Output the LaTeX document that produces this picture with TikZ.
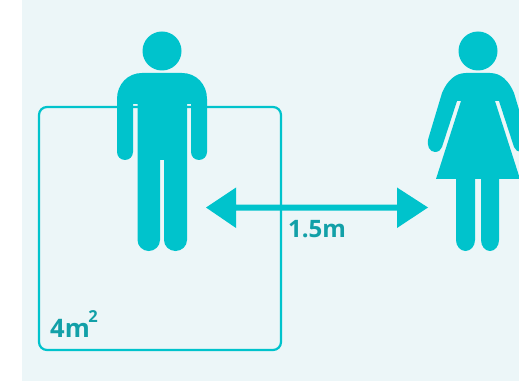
\documentclass[tikz,border=0pt]{standalone}
\usepackage{fontspec}
\setmainfont{Open Sans}
\definecolor{bgc}{HTML}{ECF6F8}
\definecolor{fig}{HTML}{00C3CC}
\definecolor{txt}{HTML}{12A0A8}
\tikzset{figshape/.style={fill=fig,draw=none},lab/.style={text=txt,font=\fontsize{24}{28}\selectfont\bfseries,inner sep=0pt,anchor=base west}}
\begin{document}
\begin{tikzpicture}[x=1pt,y=-1pt]
\useasboundingbox (0,0) rectangle (519,382);
\clip (0,0) rectangle (519,382);
\fill[bgc] (22,0) rectangle (519,381);
% floor area
\draw[fig,line width=2.2pt,rounded corners=8pt] (39,107) rectangle (281,350);
% man
\fill[figshape] (162,51) circle (19.5);
\fill[figshape] (142,73)
  .. controls (128,73) and (117,84) .. (117,99) -- (117,152)
  arc[start angle=180,end angle=360,x radius=8,y radius=-8]
  -- (133,104) -- (137.5,104) -- (137.5,240)
  arc[start angle=180,end angle=360,x radius=11.25,y radius=-11]
  -- (160,160) -- (164,160) -- (164,240)
  arc[start angle=180,end angle=360,x radius=11.5,y radius=-11]
  -- (187,104) -- (191,104) -- (191,152)
  arc[start angle=180,end angle=360,x radius=8,y radius=-8]
  -- (207,99) .. controls (207,84) and (196,73) .. (182,73) -- cycle;
% woman
\fill[figshape] (478,51) circle (19.5);
\fill[figshape] (466,73)
  .. controls (455,73) and (447,81) .. (442,93)
  -- (428.5,138)
  .. controls (426,146) and (430,152) .. (435,152)
  .. controls (438.5,152) and (441,150) .. (442,147)
  -- (457,101) -- (461,101) -- (436,179) -- (456,179) -- (456,240)
  arc[start angle=180,end angle=360,x radius=9.5,y radius=-11]
  -- (475,179) -- (481,179) -- (481,240)
  arc[start angle=180,end angle=360,x radius=9,y radius=-11]
  -- (499,179) -- (520,179) -- (495,101) -- (499,101)
  -- (514,147) .. controls (515,150) and (518,152) .. (521,152)
  .. controls (526,152) and (530,146) .. (527.5,138)
  -- (514,93) .. controls (509,81) and (501,73) .. (490,73) -- cycle;
% distance arrow
\coordinate (tipL) at (206,207.5);
\coordinate (tipR) at (428,207.5);
\fill[figshape] (tipL) -- (236,187.5) -- (236,204.5) -- (397,204.5) -- (397,187.5)
  -- (tipR) -- (397,228) -- (397,210.5) -- (236,210.5) -- (236,228) -- cycle;
\node[lab] (dist) at (288,237.5) {1.5m};
\node[lab] (area) at (50,337) {{\fontsize{25.5}{28}\selectfont 4m}\kern-1.5pt\raisebox{14.5pt}{\fontsize{16.5}{18}\selectfont 2}};
\end{tikzpicture}
\end{document}
